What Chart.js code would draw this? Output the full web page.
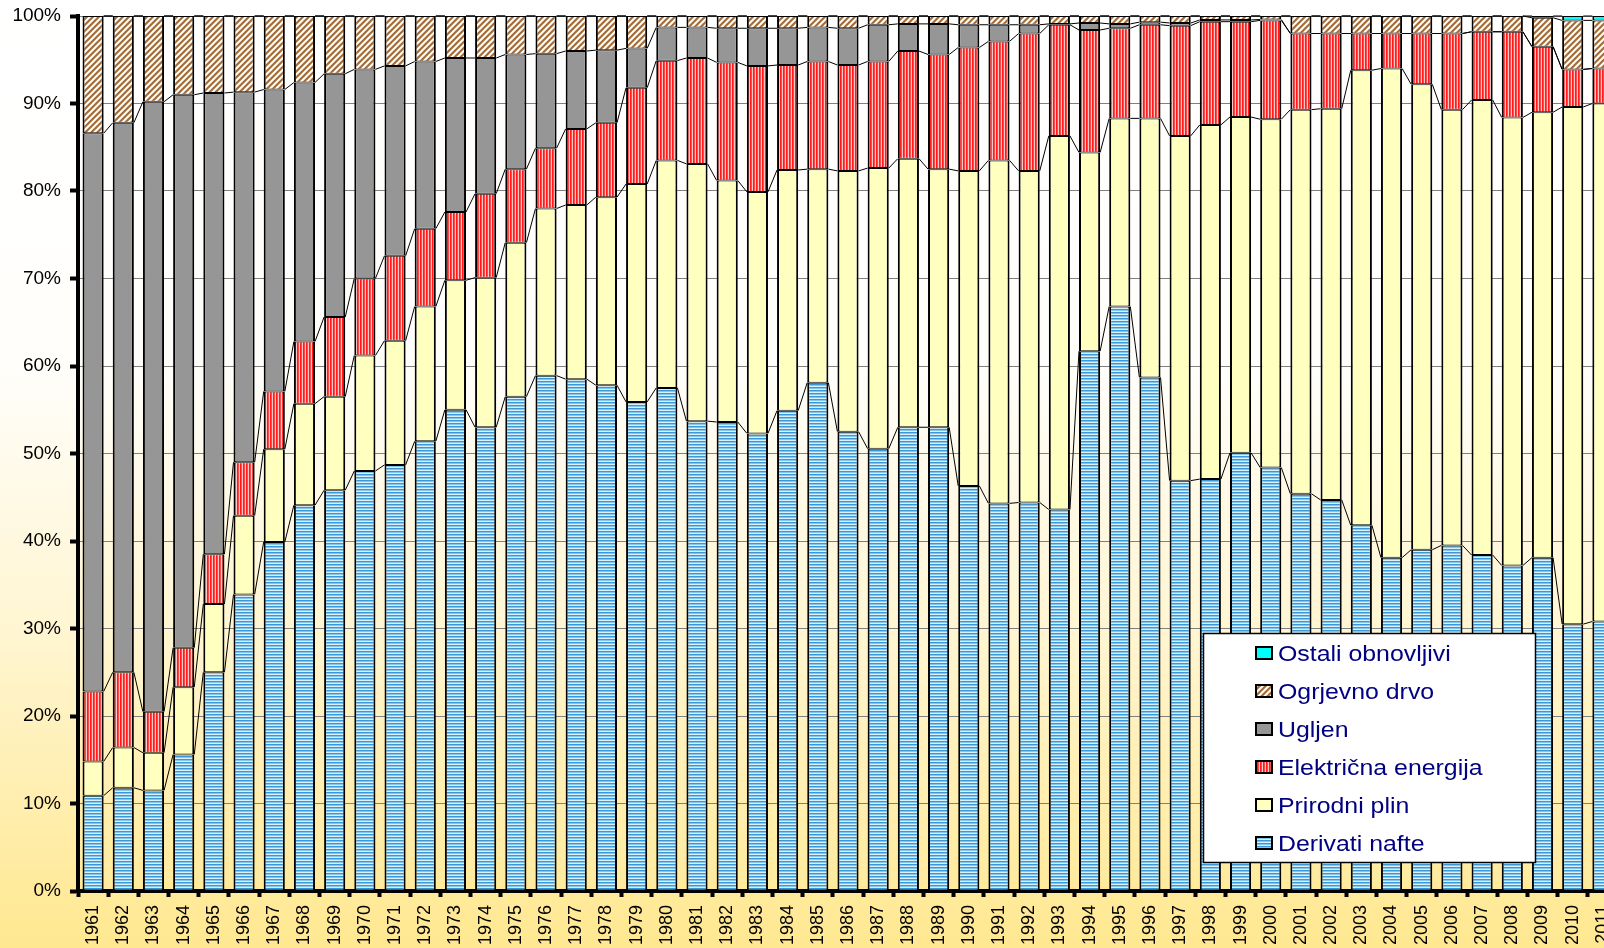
<!DOCTYPE html>
<html>
<head>
<meta charset="utf-8">
<title>Struktura potrošnje energije</title>
<script src="https://cdn.jsdelivr.net/npm/chart.js@4.4.0/dist/chart.umd.min.js"></script>
<style>
    html, body { margin: 0; padding: 0; overflow: hidden; }
    body {
        width: 1604px;
        height: 948px;
        background: linear-gradient(to bottom, #ffffff 0%, #fffefb 38%, #fff5cf 68%, #ffe890 100%);
    }
    #wrap { position: absolute; left: 0; top: 0; width: 1620px; height: 948px; }
</style>
</head>
<body>
<div id="wrap"><canvas id="energy-chart" width="1620" height="948"></canvas></div>
<script>
// Years 1961 - 2011
var years = ['1961', '1962', '1963', '1964', '1965', '1966', '1967', '1968', '1969', '1970',
    '1971', '1972', '1973', '1974', '1975', '1976', '1977', '1978', '1979', '1980',
    '1981', '1982', '1983', '1984', '1985', '1986', '1987', '1988', '1989', '1990',
    '1991', '1992', '1993', '1994', '1995', '1996', '1997', '1998', '1999', '2000',
    '2001', '2002', '2003', '2004', '2005', '2006', '2007', '2008', '2009', '2010', '2011'];

// shares in %
var derivatiNafte = [10.9, 11.8, 11.5, 15.6, 25.0, 33.9, 39.9, 44.1, 45.8, 48.0,
    48.7, 51.4, 55.0, 53.0, 56.5, 58.9, 58.5, 57.8, 55.9, 57.5,
    53.7, 53.6, 52.3, 54.9, 58.1, 52.5, 50.6, 53.0, 53.0, 46.3,
    44.3, 44.4, 43.6, 61.7, 66.8, 58.7, 46.9, 47.1, 50.1, 48.4,
    45.4, 44.7, 41.8, 38.1, 39.0, 39.5, 38.4, 37.2, 38.1, 30.5, 30.8];
var prirodniPlin = [3.9, 4.6, 4.3, 7.7, 7.8, 9.0, 10.6, 11.6, 10.7, 13.2,
    14.2, 15.4, 14.8, 17.1, 17.6, 19.1, 19.9, 21.5, 24.9, 26.0,
    29.4, 27.6, 27.6, 27.5, 24.4, 29.8, 32.1, 30.7, 29.5, 36.0,
    39.2, 37.9, 42.7, 22.7, 21.5, 29.6, 39.4, 40.5, 38.4, 39.8,
    43.9, 44.7, 52.0, 55.9, 53.2, 49.8, 52.0, 51.2, 50.9, 59.1, 59.2];
var elektricnaEnergija = [8.0, 8.6, 4.7, 4.5, 5.7, 6.1, 6.6, 7.1, 9.1, 8.8,
    9.7, 8.9, 7.8, 9.6, 8.4, 6.9, 8.7, 8.5, 11.0, 11.4,
    12.1, 13.5, 14.4, 12.0, 12.3, 12.1, 12.2, 12.3, 13.1, 14.1,
    13.6, 15.7, 12.7, 14.0, 10.3, 10.7, 12.6, 11.8, 10.9, 11.3,
    8.7, 8.6, 4.2, 4.0, 5.8, 8.7, 7.8, 9.8, 7.5, 4.3, 4.0];
var ugljen = [63.8, 62.8, 69.7, 63.2, 52.7, 42.3, 34.5, 29.6, 27.8, 23.9,
    21.7, 19.1, 17.6, 15.5, 13.1, 10.8, 8.9, 8.3, 4.5, 3.8,
    3.5, 3.9, 4.3, 4.2, 3.9, 4.2, 4.2, 3.1, 3.5, 2.6,
    1.9, 1.0, 0.1, 0.8, 0.5, 0.3, 0.3, 0.2, 0.2, 0.1,
    0, 0, 0, 0, 0, 0, 0, 0, 0, 0, 0];
var ogrjevnoDrvo = [13.4, 12.2, 9.8, 9.0, 8.8, 8.7, 8.4, 7.6, 6.6, 6.1,
    5.7, 5.2, 4.8, 4.8, 4.4, 4.3, 4.0, 3.9, 3.7, 1.3,
    1.3, 1.4, 1.4, 1.4, 1.3, 1.4, 1.0, 0.9, 0.9, 1.0,
    1.0, 1.0, 0.9, 0.8, 0.9, 0.7, 0.8, 0.45, 0.45, 0.4,
    2.0, 2.0, 2.0, 2.0, 2.0, 2.0, 1.8, 1.8, 3.3, 5.6, 5.5];
var ostaliObnovljivi = [0, 0, 0, 0, 0, 0, 0, 0, 0, 0,
    0, 0, 0, 0, 0, 0, 0, 0, 0, 0,
    0, 0, 0, 0, 0, 0, 0, 0, 0, 0,
    0, 0, 0, 0, 0, 0, 0, 0, 0, 0,
    0, 0, 0, 0, 0, 0, 0, 0, 0.2, 0.5, 0.5];

var seriesNames = ['Derivati nafte', 'Prirodni plin', 'Električna energija', 'Ugljen', 'Ogrjevno drvo', 'Ostali obnovljivi'];
var seriesValues = [derivatiNafte, prirodniPlin, elektricnaEnergija, ugljen, ogrjevnoDrvo, ostaliObnovljivi];

// fill patterns
function makePattern(w, h, paint) {
    var c = document.createElement('canvas');
    c.width = w;
    c.height = h;
    var g = c.getContext('2d');
    paint(g);
    return g.createPattern(c, 'repeat');
}

var blueStripes = makePattern(4, 3, function (g) {
    g.fillStyle = '#3a98d4'; g.fillRect(0, 0, 4, 1);
    g.fillStyle = '#86c6ec'; g.fillRect(0, 1, 4, 1);
    g.fillStyle = '#dbeffa'; g.fillRect(0, 2, 4, 1);
});
var redStripes = makePattern(3, 4, function (g) {
    g.fillStyle = '#ff1c1c'; g.fillRect(0, 0, 1, 4);
    g.fillStyle = '#ff4a4a'; g.fillRect(1, 0, 1, 4);
    g.fillStyle = '#ffc6c6'; g.fillRect(2, 0, 1, 4);
});
var woodHatch = makePattern(6, 6, function (g) {
    var shades = ['#a46e3c', '#a46e3c', '#c29468', '#ffffff', '#ffffff', '#e4cdb4'];
    for (var x = 0; x < 6; x++) {
        for (var y = 0; y < 6; y++) {
            g.fillStyle = shades[(x + y) % 6];
            g.fillRect(x, y, 1, 1);
        }
    }
});

var fills = [blueStripes, '#ffffc0', redStripes, '#969696', woodHatch, '#00ffff'];

// percent of each year's total
var totals = years.map(function (y, i) {
    return seriesValues.reduce(function (s, arr) { return s + arr[i]; }, 0);
});

var datasets = seriesNames.map(function (name, d) {
    return {
        label: name,
        data: seriesValues[d].map(function (v, i) { return v / totals[i] * 100; }),
        backgroundColor: fills[d],
        borderColor: '#000000',
        borderWidth: { top: 1, bottom: 1, left: 2, right: 2 },
        borderSkipped: false,
        barPercentage: 0.7,
        categoryPercentage: 1.0
    };
});

// thin lines joining the tops of the same series in neighbouring bars
var seriesLines = {
    id: 'seriesLines',
    afterDatasetsDraw: function (chart) {
        var ctx = chart.ctx;
        ctx.save();
        ctx.strokeStyle = '#000000';
        ctx.lineWidth = 1;
        chart.data.datasets.forEach(function (ds, d) {
            var bars = chart.getDatasetMeta(d).data;
            ctx.beginPath();
            for (var i = 0; i < bars.length - 1; i++) {
                var a = bars[i], b = bars[i + 1];
                ctx.moveTo(a.x + a.width / 2, a.y);
                ctx.lineTo(b.x - b.width / 2, b.y);
            }
            ctx.stroke();
        });
        ctx.restore();
    }
};

// boxed legend inside the plot, newest series on top
var legendBox = {
    id: 'legendBox',
    afterDraw: function (chart) {
        var ctx = chart.ctx;
        var bx = 1203, by = 633, bw = 332, bh = 229;
        ctx.save();
        ctx.fillStyle = '#ffffff';
        ctx.fillRect(bx, by, bw, bh);
        ctx.strokeStyle = '#000000';
        ctx.lineWidth = 1.5;
        ctx.strokeRect(bx + 0.5, by + 0.5, bw, bh);
        var sets = chart.data.datasets.slice().reverse();
        sets.forEach(function (ds, i) {
            var cy = 653 + i * 38;
            ctx.fillStyle = ds.backgroundColor;
            ctx.fillRect(1256, cy - 6, 16, 12);
            ctx.lineWidth = 2;
            ctx.strokeStyle = '#000000';
            ctx.strokeRect(1256, cy - 6, 16, 12);
            ctx.save();
            ctx.translate(1278, cy + 8);
            ctx.scale(1.13, 1);
            ctx.fillStyle = '#000080';
            ctx.font = '22px "Liberation Sans", Arial, sans-serif';
            ctx.textBaseline = 'alphabetic';
            ctx.fillText(ds.label, 0, 0);
            ctx.restore();
        });
        ctx.restore();
    }
};

new Chart(document.getElementById('energy-chart'), {
    type: 'bar',
    data: {
        labels: years,
        datasets: datasets
    },
    options: {
        responsive: false,
        animation: false,
        devicePixelRatio: 1,
        layout: { padding: { top: 16, right: 2, left: 0, bottom: 0 } },
        plugins: {
            legend: { display: false },
            tooltip: { enabled: false }
        },
        scales: {
            x: {
                stacked: true,
                grid: {
                    drawOnChartArea: false,
                    drawTicks: true,
                    tickLength: 6,
                    tickColor: '#000000',
                    tickWidth: 4
                },
                border: { color: '#000000', width: 4 },
                ticks: {
                    autoSkip: false,
                    minRotation: 90,
                    maxRotation: 90,
                    padding: 8,
                    color: '#000000',
                    font: { family: '"Liberation Sans", Arial, sans-serif', size: 18 }
                },
                afterFit: function (s) {
                    s.height = 57;
                    s.paddingLeft = 0;
                    s.paddingRight = 0;
                }
            },
            y: {
                stacked: true,
                min: 0,
                max: 100,
                grid: {
                    color: '#808080',
                    lineWidth: 1,
                    tickLength: 8,
                    tickColor: '#000000',
                    tickWidth: 4
                },
                border: { color: '#000000', width: 4 },
                ticks: {
                    stepSize: 10,
                    padding: 9,
                    color: '#000000',
                    font: { family: '"Liberation Sans", Arial, sans-serif', size: 19 },
                    callback: function (v) { return v + '%'; }
                },
                afterFit: function (s) {
                    s.width = 78;
                    s.paddingTop = 0;
                    s.paddingBottom = 0;
                }
            }
        }
    },
    plugins: [seriesLines, legendBox]
});
</script>
</body>
</html>
